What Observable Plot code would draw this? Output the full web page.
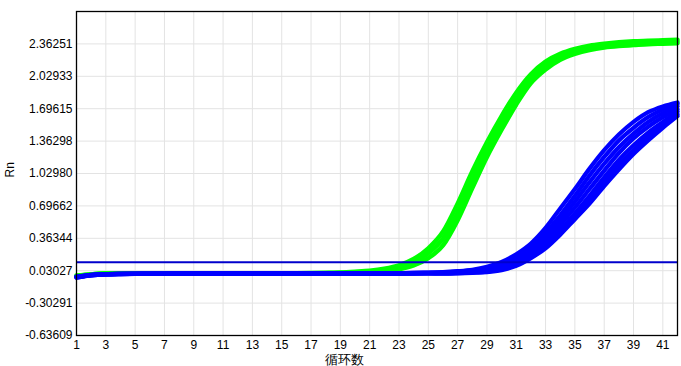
<!DOCTYPE html>
<html><head><meta charset="utf-8">
<script src="https://cdn.jsdelivr.net/npm/d3@7"></script>
<script src="https://cdn.jsdelivr.net/npm/@observablehq/plot@0.6"></script>
<style>body{margin:0;background:#fff;} svg{display:block;}</style>
</head><body><div id="chart"></div>
<script>
const cycles = d3.range(1, 43);
const yTicks = [-0.63609, -0.30291, 0.03027, 0.36344, 0.69662, 1.02980, 1.36298, 1.69615, 2.02933, 2.36251];
const xTicks = [1,3,5,7,9,11,13,15,17,19,21,23,25,27,29,31,33,35,37,39,41];
const threshold = 0.117;
const xLabel = "循环数";
const yLabel = "Rn";

const greenA = [-0.02,-0.006,0.004,0.005,0.005,0.005,0.005,0.005,0.005,0.005,0.005,0.005,0.005,0.005,0.005,0.005,0.006,0.008,0.012,0.02,0.03,0.05,0.085,0.15,0.26,0.43,0.72,1.05,1.35,1.62,1.86,2.05,2.18,2.26,2.31,2.345,2.365,2.38,2.39,2.395,2.40,2.405];
const greenB = [-0.025,-0.009,0.001,0.003,0.003,0.003,0.003,0.003,0.003,0.003,0.003,0.003,0.003,0.003,0.003,0.003,0.003,0.005,0.008,0.015,0.022,0.037,0.065,0.115,0.21,0.36,0.63,0.96,1.27,1.55,1.80,2.0,2.14,2.23,2.285,2.322,2.345,2.36,2.37,2.378,2.382,2.388];
const greenC = [-0.03,-0.012,-0.002,0,0,0,0,0,0,0,0,0,0,0,0,0,0,0.002,0.005,0.01,0.015,0.025,0.045,0.085,0.16,0.29,0.55,0.88,1.2,1.48,1.74,1.96,2.1,2.2,2.26,2.3,2.325,2.34,2.35,2.36,2.365,2.37];

const blue1 = [-0.03,-0.012,-0.005,-0.002,-0.001,0,0,0,0,0,0,0,0,0,0,0,0,0,0,0.001,0.002,0.004,0.006,0.008,0.011,0.015,0.025,0.04,0.07,0.12,0.2,0.31,0.47,0.67,0.87,1.08,1.27,1.43,1.56,1.66,1.72,1.76];
const blue2 = [-0.032,-0.013,-0.005,-0.002,-0.001,0,0,0,0,0,0,0,0,0,0,0,0,0,0,0.001,0.002,0.003,0.005,0.007,0.009,0.012,0.02,0.033,0.058,0.1,0.17,0.27,0.42,0.6,0.8,1.01,1.2,1.37,1.5,1.61,1.69,1.745];
const blue3 = [-0.034,-0.014,-0.006,-0.003,-0.002,-0.001,0,0,0,0,0,0,0,0,0,0,0,0,0,0,0.001,0.002,0.004,0.006,0.008,0.01,0.016,0.027,0.047,0.083,0.145,0.24,0.38,0.55,0.74,0.94,1.13,1.3,1.44,1.56,1.65,1.72];
const blue4 = [-0.036,-0.015,-0.006,-0.003,-0.002,-0.001,-0.001,0,0,0,0,0,0,0,0,0,0,0,0,0,0.001,0.002,0.003,0.004,0.005,0.007,0.012,0.021,0.037,0.067,0.12,0.21,0.34,0.5,0.68,0.87,1.06,1.24,1.39,1.51,1.61,1.69];
const blue5 = [-0.038,-0.016,-0.007,-0.004,-0.002,-0.001,-0.001,0,0,0,0,0,0,0,0,0,0,0,0,0,0,0.001,0.002,0.003,0.004,0.005,0.008,0.015,0.028,0.053,0.1,0.185,0.3,0.45,0.62,0.8,0.99,1.17,1.32,1.45,1.56,1.665];
const blue6 = [-0.04,-0.017,-0.007,-0.004,-0.003,-0.002,-0.001,-0.001,0,0,0,0,0,0,0,0,0,0,0,0,0,0.001,0.001,0.002,0.003,0.003,0.005,0.011,0.021,0.043,0.09,0.17,0.28,0.42,0.59,0.76,0.94,1.12,1.27,1.41,1.53,1.64];
const blue7 = [-0.042,-0.018,-0.008,-0.005,-0.003,-0.002,-0.001,-0.001,0,0,0,0,0,0,0,0,0,0,0,0,0,0,0.001,0.001,0.002,0,0.003,0.008,0.015,0.035,0.08,0.16,0.26,0.4,0.56,0.72,0.9,1.07,1.23,1.37,1.5,1.62];

const greenSeries = [greenA, greenB, greenC];
const blueSeries = [blue1, blue2, blue3, blue4, blue5, blue6, blue7];

function toRows(series, color) {
  const rows = [];
  series.forEach((vals, i) => vals.forEach((v, j) => rows.push({cycle: cycles[j], rn: v, id: color + i})));
  return rows;
}
const greenRows = toRows(greenSeries, "g");
const blueRows = toRows(blueSeries, "b");

const font = "'Liberation Sans', 'DejaVu Sans', Arial, sans-serif";

const chart = Plot.plot({
  width: 681,
  height: 366,
  marginLeft: 76,
  marginRight: 4,
  marginTop: 11,
  marginBottom: 31,
  style: {fontFamily: font, fontSize: "12px", color: "#000", background: "#fff"},
  x: {domain: [1, 42]},
  y: {domain: [-0.63609, 2.69569]},
  marks: [
    Plot.gridX(xTicks, {stroke: "#e3e3e3", strokeOpacity: 1}),
    Plot.gridY(yTicks, {stroke: "#e3e3e3", strokeOpacity: 1}),
    Plot.line(greenRows, {x: "cycle", y: "rn", z: "id", stroke: "#00ff00", strokeWidth: 4.5, curve: "monotone-x"}),
    Plot.line(blueRows, {x: "cycle", y: "rn", z: "id", stroke: "#0000ff", strokeWidth: 4.2, curve: "monotone-x"}),
    Plot.ruleY([threshold], {stroke: "#0000cc", strokeWidth: 2}),
    Plot.axisX(xTicks, {tickSize: 0, tickPadding: 5, label: null, fontSize: 12}),
    Plot.axisY(yTicks, {tickSize: 0, tickPadding: 4, label: null, tickFormat: d => d.toFixed(5), fontSize: 12}),
    Plot.text([xLabel], {frameAnchor: "bottom", dx: -33, dy: 24, fontSize: 13, lineAnchor: "middle", fill: "#000"}),
    Plot.text([yLabel], {frameAnchor: "left", dx: -66, dy: 4, rotate: -90, fontSize: 12, fill: "#000"}),
    Plot.frame({stroke: "#000", strokeWidth: 1.3})
  ]
});
document.getElementById("chart").appendChild(chart);
</script>
</body></html>
